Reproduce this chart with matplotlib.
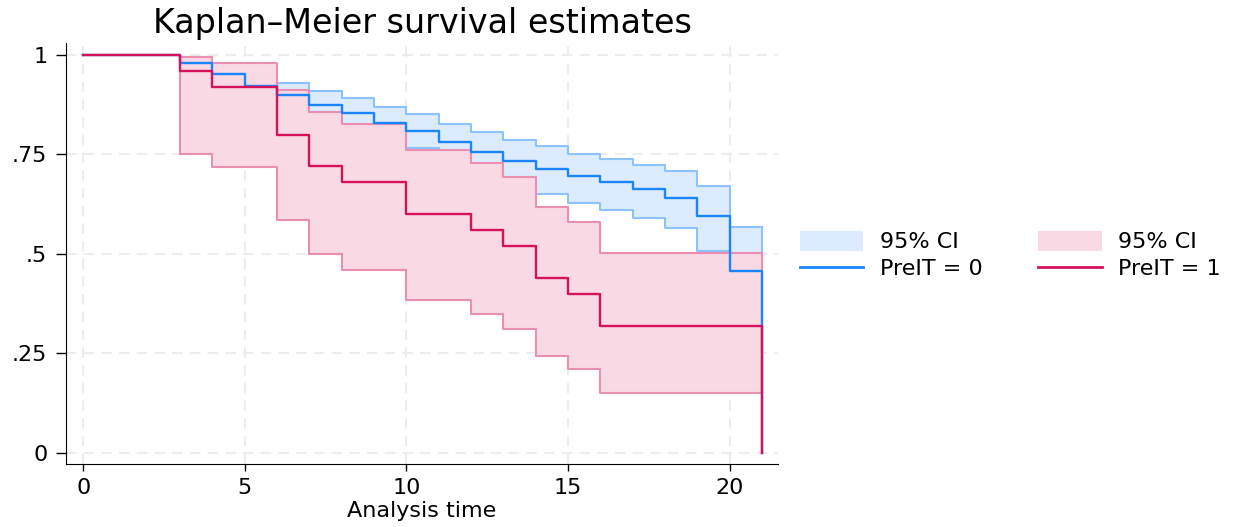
import matplotlib.pyplot as plt
from matplotlib.patches import Patch
from matplotlib.lines import Line2D

plt.rcParams['font.family'] = ['DejaVu Sans']

# PreIT = 0 : survival estimate at each step time
t0 = [0, 3, 4, 5, 6, 7, 8, 9, 10, 11, 12, 13, 14, 15, 16, 17, 18, 19, 20, 21]
s0 = [1.0, 0.980, 0.953, 0.923, 0.899, 0.874, 0.855, 0.830, 0.809, 0.780,
      0.755, 0.733, 0.714, 0.695, 0.680, 0.663, 0.640, 0.595, 0.457, 0.0]
# 95% CI for PreIT = 0 (times 3..20, band runs to 21)
ci0_t = [3, 4, 5, 6, 7, 8, 9, 10, 11, 12, 13, 14, 15, 16, 17, 18, 19, 20, 21]
ci0_hi = [0.995, 0.975, 0.950, 0.929, 0.909, 0.891, 0.870, 0.852, 0.827,
          0.806, 0.785, 0.770, 0.752, 0.739, 0.724, 0.708, 0.671, 0.568, 0.568]
ci0_lo = [0.940, 0.915, 0.885, 0.860, 0.835, 0.815, 0.790, 0.766, 0.735,
          0.707, 0.685, 0.651, 0.629, 0.611, 0.591, 0.564, 0.508, 0.350, 0.350]

# PreIT = 1
t1 = [0, 3, 4, 6, 7, 8, 10, 12, 13, 14, 15, 16, 21]
s1 = [1.0, 0.96, 0.92, 0.80, 0.72, 0.68, 0.60, 0.56, 0.52, 0.44, 0.40, 0.32, 0.0]
ci1_t = [3, 4, 6, 7, 8, 10, 12, 13, 14, 15, 16, 21]
ci1_hi = [0.995, 0.981, 0.912, 0.856, 0.826, 0.761, 0.728, 0.693, 0.619,
          0.581, 0.502, 0.502]
ci1_lo = [0.750, 0.718, 0.584, 0.500, 0.460, 0.384, 0.348, 0.312, 0.243,
          0.211, 0.150, 0.150]

blue = '#1a85ff'
red = '#d41159'
blue_fill = '#dcebfd'
blue_edge = '#8cc2ff'
red_fill = '#f8d9e4'
red_edge = '#ea8fb1'

fig = plt.figure(figsize=(12.44, 5.27), dpi=100)
ax = fig.add_axes([0.0531, 0.1195, 0.5723, 0.7989])

# CI bands
ax.fill_between(ci0_t, ci0_lo, ci0_hi, step='post', color=blue_fill, lw=0, zorder=2)
ax.step(ci0_t, ci0_hi, where='post', color=blue_edge, lw=1.5, zorder=2)
ax.step(ci0_t, ci0_lo, where='post', color=blue_edge, lw=1.5, zorder=2)
ax.plot([ci0_t[-1]] * 2, [ci0_lo[-1], ci0_hi[-1]], color=blue_edge, lw=1.5, zorder=2)

ax.fill_between(ci1_t, ci1_lo, ci1_hi, step='post', color=red_fill, lw=0, zorder=3)
ax.step(ci1_t, ci1_hi, where='post', color=red_edge, lw=1.5, zorder=3)
ax.step(ci1_t, ci1_lo, where='post', color=red_edge, lw=1.5, zorder=3)
ax.plot([ci1_t[0]] * 2, [ci1_lo[0], ci1_hi[0]], color=red_edge, lw=1.5, zorder=3)
ax.plot([ci1_t[-1]] * 2, [ci1_lo[-1], ci1_hi[-1]], color=red_edge, lw=1.5, zorder=3)

# survival curves
ax.step(t0, s0, where='post', color=blue, lw=1.7, zorder=4)
ax.step(t1, s1, where='post', color=red, lw=1.7, zorder=5)

ax.set_xlim(-0.53, 21.5)
ax.set_ylim(-0.028, 1.03)
ax.set_xticks([0, 5, 10, 15, 20])
ax.set_yticks([0, 0.25, 0.5, 0.75, 1])
ax.set_yticklabels(['0', '.25', '.5', '.75', '1'])
ax.tick_params(direction='out', width=1, labelsize=16)
ax.tick_params(axis='x', length=5, pad=5)
ax.tick_params(axis='y', length=7.5, pad=6)
ax.grid(True, color='#ededed', linestyle=(0, (5, 3.5)), linewidth=1.5, zorder=0)
ax.set_axisbelow(True)
for side in ['top', 'right']:
    ax.spines[side].set_visible(False)
ax.set_xlabel('Analysis time', fontsize=16, labelpad=2)
ax.set_title('Kaplan\u2013Meier survival estimates', fontsize=24, pad=7)

handles = [Patch(facecolor=blue_fill, edgecolor='none'),
           Line2D([], [], color=blue, lw=2),
           Patch(facecolor=red_fill, edgecolor='none'),
           Line2D([], [], color=red, lw=2)]
labels = ['95% CI', 'PreIT = 0', '95% CI', 'PreIT = 1']
fig.legend(handles, labels, ncol=2, frameon=False, fontsize=16,
           loc='center left', bbox_to_anchor=(800 / 1244, 1 - 255 / 527),
           borderpad=0, borderaxespad=0, handlelength=2.85, handleheight=1.0,
           handletextpad=0.75, columnspacing=2.5, labelspacing=0.25)

fig.savefig('out.png', dpi=100)
